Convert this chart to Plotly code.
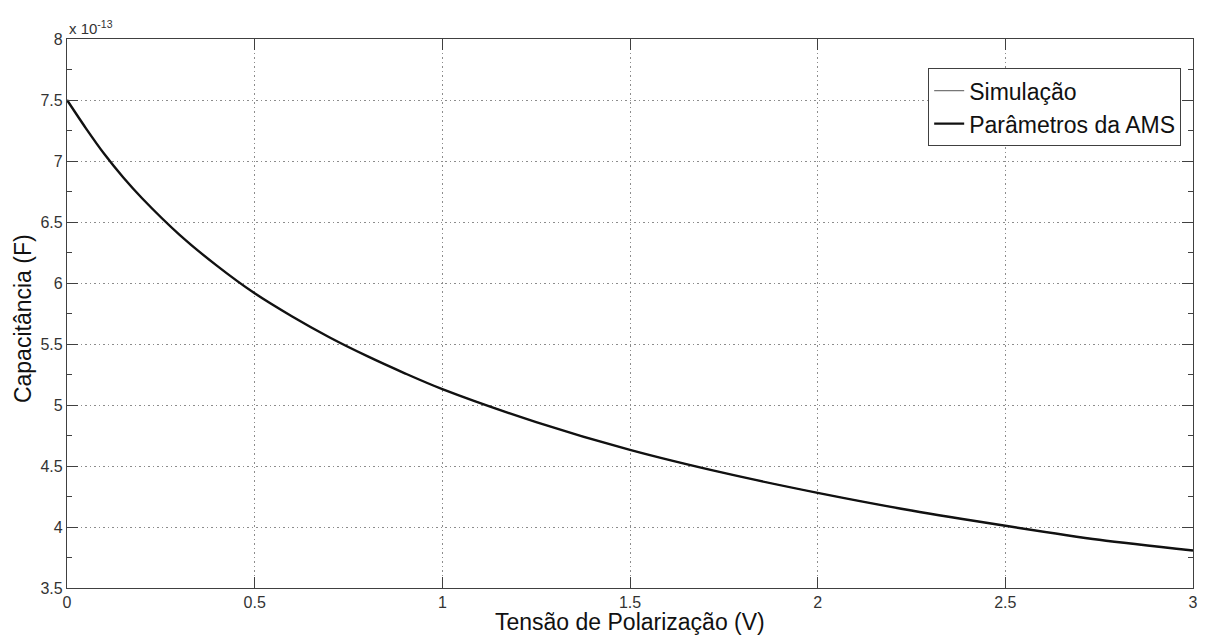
import plotly.graph_objects as go

# Bias voltage (V) and junction capacitance (units of 1e-13 F)
tensao = [0.0, 0.05, 0.1, 0.15, 0.2, 0.3, 0.4, 0.5, 0.6, 0.7, 0.8, 0.9, 1.0,
          1.25, 1.5, 1.75, 2.0, 2.25, 2.5, 2.75, 3.0]
cap_simulacao = [7.50, 7.27, 7.055, 6.865, 6.695, 6.395, 6.14, 5.915, 5.725, 5.553,
                 5.40, 5.26, 5.13, 4.86, 4.632, 4.443, 4.28, 4.135, 4.01, 3.895, 3.807]
cap_ams = [7.50, 7.27, 7.055, 6.865, 6.695, 6.395, 6.14, 5.915, 5.725, 5.553,
           5.40, 5.26, 5.13, 4.86, 4.632, 4.443, 4.28, 4.135, 4.01, 3.895, 3.807]

x_ticks = [0, 0.5, 1, 1.5, 2, 2.5, 3]
x_labels = ["0", "0.5", "1", "1.5", "2", "2.5", "3"]
y_ticks = [3.5, 4, 4.5, 5, 5.5, 6, 6.5, 7, 7.5, 8]
y_labels = ["3.5", "4", "4.5", "5", "5.5", "6", "6.5", "7", "7.5", "8"]

FONT = "Liberation Sans, Arial, sans-serif"
TXT = "#333333"
AX = "#404040"

fig = go.Figure()
fig.add_trace(go.Scatter(
    x=tensao, y=cap_simulacao, mode="lines", name="Simulação",
    line=dict(color="#555555", width=1, shape="spline", smoothing=0.8),
))
fig.add_trace(go.Scatter(
    x=tensao, y=cap_ams, mode="lines", name="Parâmetros da AMS",
    line=dict(color="#111111", width=2.4, shape="spline", smoothing=0.8),
))

axis_common = dict(
    showline=True, linecolor=AX, linewidth=1.2, mirror="allticks",
    ticks="inside", ticklen=11, tickwidth=1.2, tickcolor=AX,
    showgrid=True, gridcolor="#8c8c8c", griddash="1.5px,3px", gridwidth=1.2,
    zeroline=False, tickfont=dict(family=FONT, size=16, color=TXT),
)

fig.update_xaxes(range=[0, 3], tickvals=x_ticks, ticktext=x_labels, **axis_common)
fig.update_yaxes(range=[3.5, 8], tickvals=y_ticks, ticktext=y_labels,
                 minor=dict(dtick=0.25, tick0=3.5, ticks="inside", ticklen=5,
                            tickcolor=AX, tickwidth=1.2, showgrid=False),
                 **axis_common)

fig.update_layout(
    width=1208, height=637,
    margin=dict(l=67, r=10, t=39, b=49),
    plot_bgcolor="white", paper_bgcolor="white",
    font=dict(family=FONT, color=TXT),
    showlegend=True,
    legend=dict(
        x=0.9895, y=0.9467, xanchor="right", yanchor="top",
        bgcolor="white", bordercolor=AX, borderwidth=1,
        font=dict(family=FONT, size=23, color="#111111"),
        tracegroupgap=0,
    ),
    annotations=[
        dict(text="Tensão de Polarização (V)", xref="paper", yref="paper",
             x=0.5, y=-0.062, xanchor="center", yanchor="middle", showarrow=False,
             font=dict(family=FONT, size=23, color="#111111")),
        dict(text="Capacitância (F)", xref="paper", yref="paper",
             x=-0.039, y=0.49, xanchor="center", yanchor="middle", showarrow=False,
             textangle=-90, font=dict(family=FONT, size=23, color="#111111")),
        dict(text="x 10<sup>-13</sup>", xref="paper", yref="paper",
             x=0.0, y=1.0, xanchor="left", yanchor="bottom", showarrow=False,
             font=dict(family=FONT, size=15, color=TXT)),
    ],
)

fig.write_html("out.html")
